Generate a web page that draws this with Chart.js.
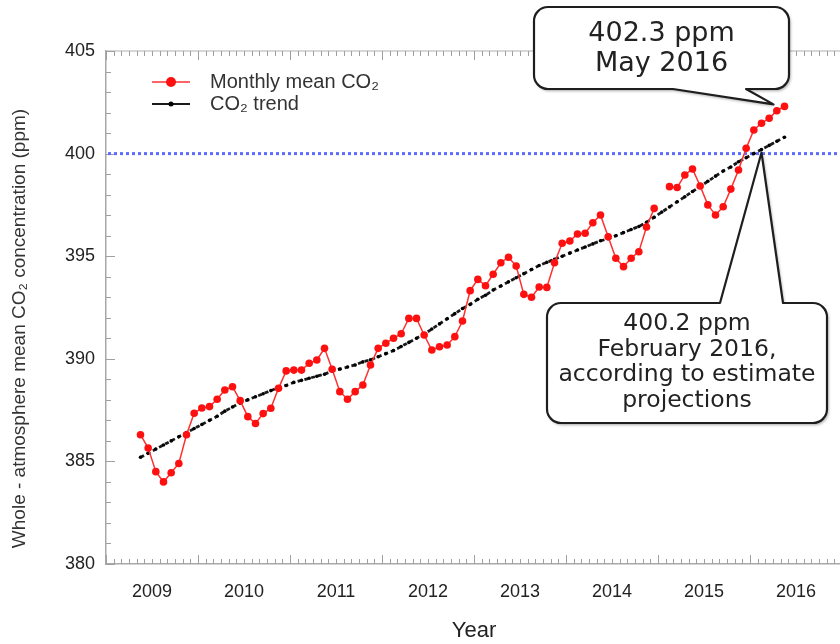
<!DOCTYPE html>
<html>
<head>
<meta charset="utf-8">
<script src="https://cdn.jsdelivr.net/npm/chart.js@4/dist/chart.umd.min.js"></script>
<style>
  html, body { margin: 0; padding: 0; background: #fff; overflow: hidden; width: 840px; height: 644px; }
  #wrap { position: relative; width: 848px; height: 644px; }
</style>
</head>
<body>
<div id="wrap"><canvas id="co2"></canvas></div>
<script>
// First month of the record (May 2009); one value per month after that.
const firstYear = 2009;
const firstMonth = 5;

// Whole-atmosphere monthly mean CO2 (ppm); null = no data that month.
const monthlyMean = [
  386.3, 385.65, 384.5, 384.0, 384.45, 384.9, 386.3, 387.35,            // 2009 May-Dec
  387.6, 387.67, 388.03, 388.48, 388.64, 387.96, 387.18, 386.85, 387.33, 387.59, 388.56, 389.41, // 2010
  389.45, 389.45, 389.78, 389.94, 390.51, 389.49, 388.4, 388.03, 388.4, 388.72, 389.7, 390.51,   // 2011
  390.76, 391.0, 391.22, 391.97, 391.97, 391.16, 390.43, 390.59, 390.67, 391.08, 391.84, 393.32, // 2012
  393.87, 393.56, 394.12, 394.68, 394.95, 394.52, 393.14, 393.0, 393.5, 393.48, 394.68, 395.63,  // 2013
  395.74, 396.08, 396.12, 396.63, 397.01, 395.95, 394.9, 394.49, 394.9, 395.22, 396.42, 397.33,  // 2014
  null, 398.39, 398.35, 398.96, 399.25, 398.42, 397.5, 397.01, 397.41, 398.27, 399.2, 400.26,    // 2015
  401.15, 401.48, 401.72, 402.09, 402.3                                                          // 2016 Jan-May
];

// Deseasonalised CO2 trend (ppm), same months.
const co2Trend = [
  385.2, 385.4, 385.6, 385.8, 386.0, 386.2, 386.4, 386.6,
  386.8, 387.0, 387.2, 387.45, 387.65, 387.85, 388.0, 388.15, 388.3, 388.45, 388.6, 388.7,
  388.85, 388.95, 389.05, 389.15, 389.25, 389.4, 389.5, 389.6, 389.7, 389.85, 389.95, 390.1,
  390.25, 390.4, 390.6, 390.8, 391.0, 391.2, 391.45, 391.7, 391.95, 392.2, 392.45, 392.65,
  392.9, 393.1, 393.35, 393.55, 393.75, 393.95, 394.15, 394.35, 394.55, 394.7, 394.85, 395.0,
  395.15, 395.3, 395.45, 395.6, 395.75, 395.85, 396.0, 396.15, 396.3, 396.45, 396.65, 396.9,
  397.15, 397.4, 397.65, 397.9, 398.15, 398.4, 398.65, 398.9, 399.15, 399.35, 399.6, 399.8,
  400.0, 400.2, 400.4, 400.6, 400.8
];

const yearLabels = [2009, 2010, 2011, 2012, 2013, 2014, 2015, 2016];
const thresholdPpm = 400;

const seriesNames = ['Monthly mean CO\u2082', 'CO\u2082 trend'];
const yAxisTitle = 'Whole - atmosphere mean CO\u2082 concentration (ppm)';
const latestNote = ['402.3 ppm', 'May 2016'];
const crossingNote = ['400.2 ppm', 'February 2016,', 'according to estimate', 'projections'];
const crossingMonth = '2016-02';

// Decimal-year position of the i-th month (mid-month).
const monthPos = i => firstYear + (firstMonth - 1 + i + 0.5) / 12;
const monthIndex = key => {
  const [y, m] = key.split('-').map(Number);
  return (y - firstYear) * 12 + (m - firstMonth);
};

const meanPoints = monthlyMean.map((v, i) => ({ x: monthPos(i), y: v }));
const trendPoints = co2Trend.map((v, i) => ({ x: monthPos(i), y: v }));

const SANS = "'Liberation Sans', Arial, sans-serif";
const CALLOUT_FONT = "'DejaVu Sans', Verdana, sans-serif";

function calloutPath(ctx, b, tail) {
  const { x, y, w, h, r } = b;
  ctx.beginPath();
  ctx.moveTo(x + r, y);
  if (tail.side === 'top') {
    ctx.lineTo(tail.a, y);
    ctx.lineTo(tail.tipX, tail.tipY);
    ctx.lineTo(tail.b, y);
  }
  ctx.lineTo(x + w - r, y);
  ctx.arcTo(x + w, y, x + w, y + r, r);
  ctx.lineTo(x + w, y + h - r);
  ctx.arcTo(x + w, y + h, x + w - r, y + h, r);
  if (tail.side === 'bottom') {
    ctx.lineTo(tail.b, y + h);
    ctx.lineTo(tail.tipX, tail.tipY);
    ctx.lineTo(tail.a, y + h);
  }
  ctx.lineTo(x + r, y + h);
  ctx.arcTo(x, y + h, x, y + h - r, r);
  ctx.lineTo(x, y + r);
  ctx.arcTo(x, y, x + r, y, r);
  ctx.closePath();
}

function drawCallout(ctx, b, tail, lines, font, lineH, firstY) {
  ctx.save();
  calloutPath(ctx, b, tail);
  ctx.shadowColor = 'rgba(0,0,0,0.35)';
  ctx.shadowOffsetX = 1.5;
  ctx.shadowOffsetY = 2;
  ctx.shadowBlur = 3;
  ctx.fillStyle = '#fff';
  ctx.fill();
  ctx.shadowColor = 'transparent';
  ctx.lineWidth = 2.2;
  ctx.lineJoin = 'round';
  ctx.strokeStyle = '#1e1e1e';
  ctx.stroke();
  ctx.fillStyle = '#222';
  ctx.font = font;
  ctx.textAlign = 'center';
  ctx.textBaseline = 'middle';
  lines.forEach((t, k) => ctx.fillText(t, b.x + b.w / 2, firstY + k * lineH));
  ctx.restore();
}

const framePlugin = {
  id: 'frame',
  beforeDatasetsDraw(chart) {
    const { ctx, chartArea: a, scales: { x, y } } = chart;
    ctx.save();
    // top border
    ctx.strokeStyle = '#b0b0b0';
    ctx.lineWidth = 1.2;
    ctx.beginPath();
    ctx.moveTo(a.left, a.top);
    ctx.lineTo(a.right, a.top);
    ctx.stroke();
    // monthly / yearly tick marks on bottom and top
    ctx.strokeStyle = '#a0a0a0';
    ctx.lineWidth = 1;
    ctx.beginPath();
    for (let m = 0; m <= (x.max - x.min) * 12; m++) {
      const px = Math.round(x.getPixelForValue(x.min + m / 12)) + 0.5;
      const len = m % 12 === 0 ? 9 : 5;
      ctx.moveTo(px, a.bottom);
      ctx.lineTo(px, a.bottom - len);
      ctx.moveTo(px, a.top);
      ctx.lineTo(px, a.top + len);
    }
    // ppm ticks on the left axis
    for (let v = y.min; v <= y.max; v++) {
      const py = Math.round(y.getPixelForValue(v)) + 0.5;
      const len = v % 5 === 0 ? 9 : 5;
      ctx.moveTo(a.left, py);
      ctx.lineTo(a.left + len, py);
    }
    ctx.stroke();
    // 400 ppm reference line
    const ty = y.getPixelForValue(thresholdPpm);
    ctx.strokeStyle = '#5b6cff';
    ctx.lineWidth = 3;
    ctx.setLineDash([3, 3]);
    ctx.beginPath();
    ctx.moveTo(a.left + 2, ty);
    ctx.lineTo(a.right, ty);
    ctx.stroke();
    ctx.restore();

    // vertical axis title, set a little below the axis centre
    ctx.save();
    ctx.translate(20, (a.top + a.bottom) / 2 + 21);
    ctx.rotate(-Math.PI / 2);
    ctx.fillStyle = '#333';
    ctx.font = '19px ' + SANS;
    ctx.textAlign = 'center';
    ctx.textBaseline = 'middle';
    ctx.fillText(yAxisTitle, 0, 0);
    ctx.restore();
  },
  afterDraw(chart) {
    const { ctx, chartArea: a, scales: { x, y } } = chart;
    const ds = chart.data.datasets;
    // legend
    ctx.save();
    const lx0 = a.left + 46, lx1 = a.left + 84, tx = a.left + 104;
    [a.top + 31, a.top + 53].forEach((ly, k) => {
      const d = ds[k];
      ctx.strokeStyle = d.borderColor;
      ctx.lineWidth = k === 0 ? 1.5 : 2;
      ctx.setLineDash([]);
      ctx.beginPath();
      ctx.moveTo(lx0, ly);
      ctx.lineTo(lx1, ly);
      ctx.stroke();
      ctx.fillStyle = d.backgroundColor;
      ctx.beginPath();
      ctx.arc((lx0 + lx1) / 2, ly, k === 0 ? 5 : 2.5, 0, Math.PI * 2);
      ctx.fill();
      ctx.fillStyle = '#333';
      ctx.font = '20px ' + SANS;
      ctx.textAlign = 'left';
      ctx.textBaseline = 'middle';
      ctx.fillText(seriesNames[k], tx, ly);
    });
    ctx.restore();

    // callout for the latest monthly value
    const li = monthlyMean.length - 1;
    const p1x = x.getPixelForValue(monthPos(li));
    const p1y = y.getPixelForValue(monthlyMean[li]);
    drawCallout(ctx, { x: 534, y: 7, w: 255, h: 82, r: 14 },
      { side: 'bottom', a: 673, b: 746, tipX: p1x - 11, tipY: p1y - 2 },
      latestNote, '27px ' + CALLOUT_FONT, 30, 34);

    // callout for the trend crossing 400 ppm
    const ci = monthIndex(crossingMonth);
    const p2x = x.getPixelForValue(monthPos(ci));
    const p2y = y.getPixelForValue(co2Trend[ci]);
    drawCallout(ctx, { x: 547, y: 303, w: 280, h: 120, r: 14 },
      { side: 'top', a: 720, b: 783, tipX: p2x, tipY: p2y + 3 },
      crossingNote, '23.5px ' + CALLOUT_FONT, 25.5, 324);
  }
};

new Chart(document.getElementById('co2'), {
  type: 'line',
  data: {
    datasets: [
      {
        label: seriesNames[0],
        data: meanPoints,
        borderColor: '#ff3030',
        backgroundColor: '#ff1010',
        borderWidth: 1.5,
        pointRadius: 3.8,
        pointBorderWidth: 0,
        pointBackgroundColor: '#ff1010',
        spanGaps: false,
        tension: 0
      },
      {
        label: seriesNames[1],
        data: trendPoints,
        borderColor: '#1a1a1a',
        backgroundColor: '#000',
        borderWidth: 2.8,
        borderDash: [4, 3],
        pointRadius: 1.8,
        pointBorderWidth: 0,
        pointBackgroundColor: '#000',
        tension: 0
      }
    ]
  },
  options: {
    responsive: true,
    maintainAspectRatio: false,
    animation: false,
    devicePixelRatio: 1,
    layout: { padding: { left: 0, top: 51, right: 6, bottom: 0 } },
    plugins: { legend: { display: false }, tooltip: { enabled: false } },
    scales: {
      x: {
        type: 'linear',
        min: 2009,
        max: 2017,
        afterFit(s) { s.height = 80; },
        afterBuildTicks(s) { s.ticks = yearLabels.map(v => ({ value: v + 0.5 })); },
        grid: { display: false, drawTicks: false },
        border: { display: true, color: '#a8a8a8', width: 1.5 },
        ticks: {
          callback: v => String(Math.floor(v)),
          color: '#222',
          font: { family: SANS, size: 18 },
          padding: 17,
          maxRotation: 0,
          autoSkip: false
        },
        title: {
          display: true,
          text: 'Year',
          color: '#222',
          font: { family: SANS, size: 22 },
          padding: { top: 0, bottom: 0 }
        }
      },
      y: {
        min: 380,
        max: 405,
        afterFit(s) { s.width = 106; },
        grid: { display: false, drawTicks: false },
        border: { display: true, color: '#a8a8a8', width: 1.5 },
        ticks: {
          stepSize: 5,
          color: '#222',
          font: { family: SANS, size: 18 },
          padding: 11
        },
        title: { display: false }
      }
    }
  },
  plugins: [framePlugin]
});
</script>
</body>
</html>
